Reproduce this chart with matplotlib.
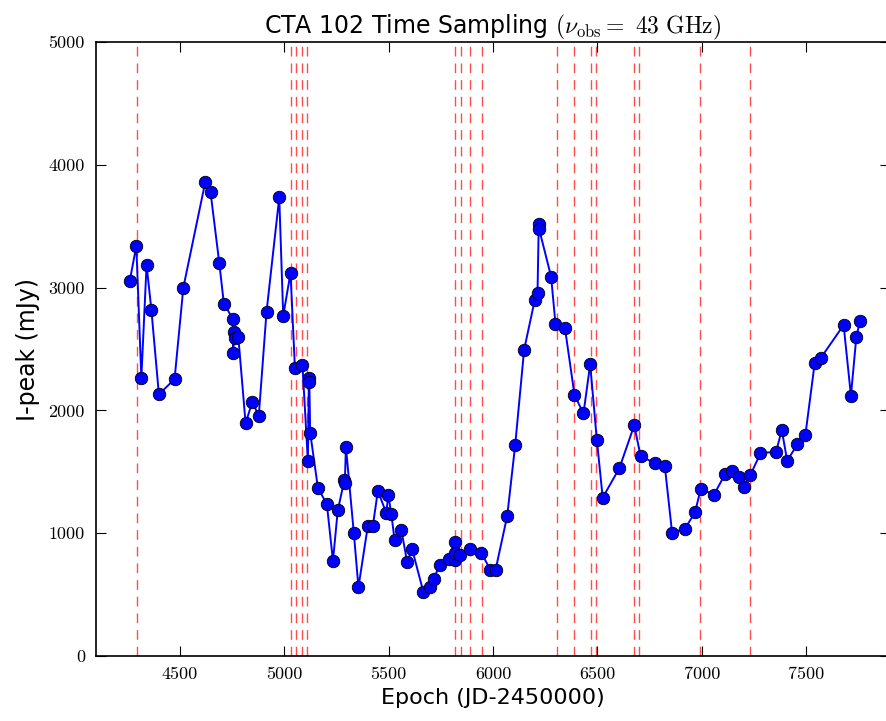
import numpy as np
import matplotlib
matplotlib.use('Agg')
import matplotlib.pyplot as plt

plt.rcParams['mathtext.fontset'] = 'cm'
plt.rcParams['font.family'] = 'DejaVu Sans'

# epochs (JD-2450000) and peak intensity (mJy)
epoch = [4261, 4293, 4317, 4342, 4365, 4401, 4476, 4518, 4623, 4648,
         4690, 4712, 4755, 4757, 4760, 4765, 4781, 4816, 4848, 4879,
         4916, 4977, 4996, 5031, 5052, 5088, 5114, 5119, 5121, 5125,
         5162, 5205, 5234, 5257, 5289, 5291, 5296, 5334, 5356, 5401,
         5425, 5449, 5489, 5499, 5513, 5529, 5561, 5589, 5613, 5667,
         5698, 5717, 5744, 5789, 5816, 5818, 5820, 5844, 5889, 5944,
         5988, 6012, 6068, 6106, 6149, 6200, 6213, 6219, 6221, 6278,
         6299, 6344, 6390, 6433, 6465, 6497, 6525, 6605, 6676, 6706,
         6773, 6822, 6857, 6918, 6967, 6994, 7058, 7112, 7144, 7176,
         7199, 7232, 7280, 7355, 7382, 7408, 7457, 7495, 7540, 7568,
         7678, 7713, 7739, 7757]
ipeak = [3050, 3340, 2265, 3185, 2820, 2130, 2255, 3000, 3860, 3780,
         3200, 2870, 2745, 2465, 2635, 2590, 2600, 1895, 2070, 1955,
         2800, 3735, 2770, 3120, 2345, 2370, 1590, 2260, 2235, 1820,
         1370, 1235, 775, 1185, 1435, 1410, 1705, 1000, 560, 1060,
         1060, 1345, 1165, 1310, 1160, 945, 1030, 765, 870, 520,
         565, 625, 745, 790, 780, 930, 835, 820, 870, 840,
         700, 700, 1140, 1715, 2495, 2900, 2955, 3520, 3475, 3090,
         2705, 2675, 2125, 1975, 2375, 1760, 1290, 1530, 1880, 1630,
         1570, 1550, 1005, 1035, 1170, 1360, 1315, 1485, 1505, 1455,
         1375, 1475, 1650, 1665, 1840, 1590, 1725, 1800, 2390, 2425,
         2695, 2120, 2600, 2730]

# epochs of the sampling marks
sampling = [4294, 5031, 5055, 5084, 5108, 5816, 5849, 5892, 5945, 6304,
            6390, 6467, 6495, 6677, 6701, 6993, 7232]

fig = plt.figure(figsize=(8.87, 7.21), dpi=100)
ax = fig.add_axes([96/887, 65/721, 794/887, 614/721])

for e in sampling:
    ax.axvline(e, color='red', ls='--', lw=1.0, alpha=0.7, dashes=(7, 5))

ax.plot(epoch, ipeak, '-o', color='blue', lw=1.4, ms=9,
        markeredgecolor='black', markeredgewidth=0.6)

ax.set_xlim(4100, 7900)
ax.set_ylim(0, 5000)
ax.set_xticks([4500, 5000, 5500, 6000, 6500, 7000, 7500])
ax.set_yticks([0, 1000, 2000, 3000, 4000, 5000])
ax.tick_params(direction='in', length=7, width=0.8, top=True, right=True,
               labelsize=13, pad=8)
for lab in ax.get_xticklabels() + ax.get_yticklabels():
    lab.set_family('cmr10')
for s in ax.spines.values():
    s.set_linewidth(1.2)

ax.set_xlabel('Epoch (JD-2450000)', fontsize=16, labelpad=4)
ax.set_ylabel('I-peak (mJy)', fontsize=17, labelpad=6)
ax.set_title(r'CTA 102 Time Sampling $(\nu_{\rm obs} =\ 43\ {\rm GHz})$',
             fontsize=17, pad=6)

fig.savefig('out.png', dpi=100)
